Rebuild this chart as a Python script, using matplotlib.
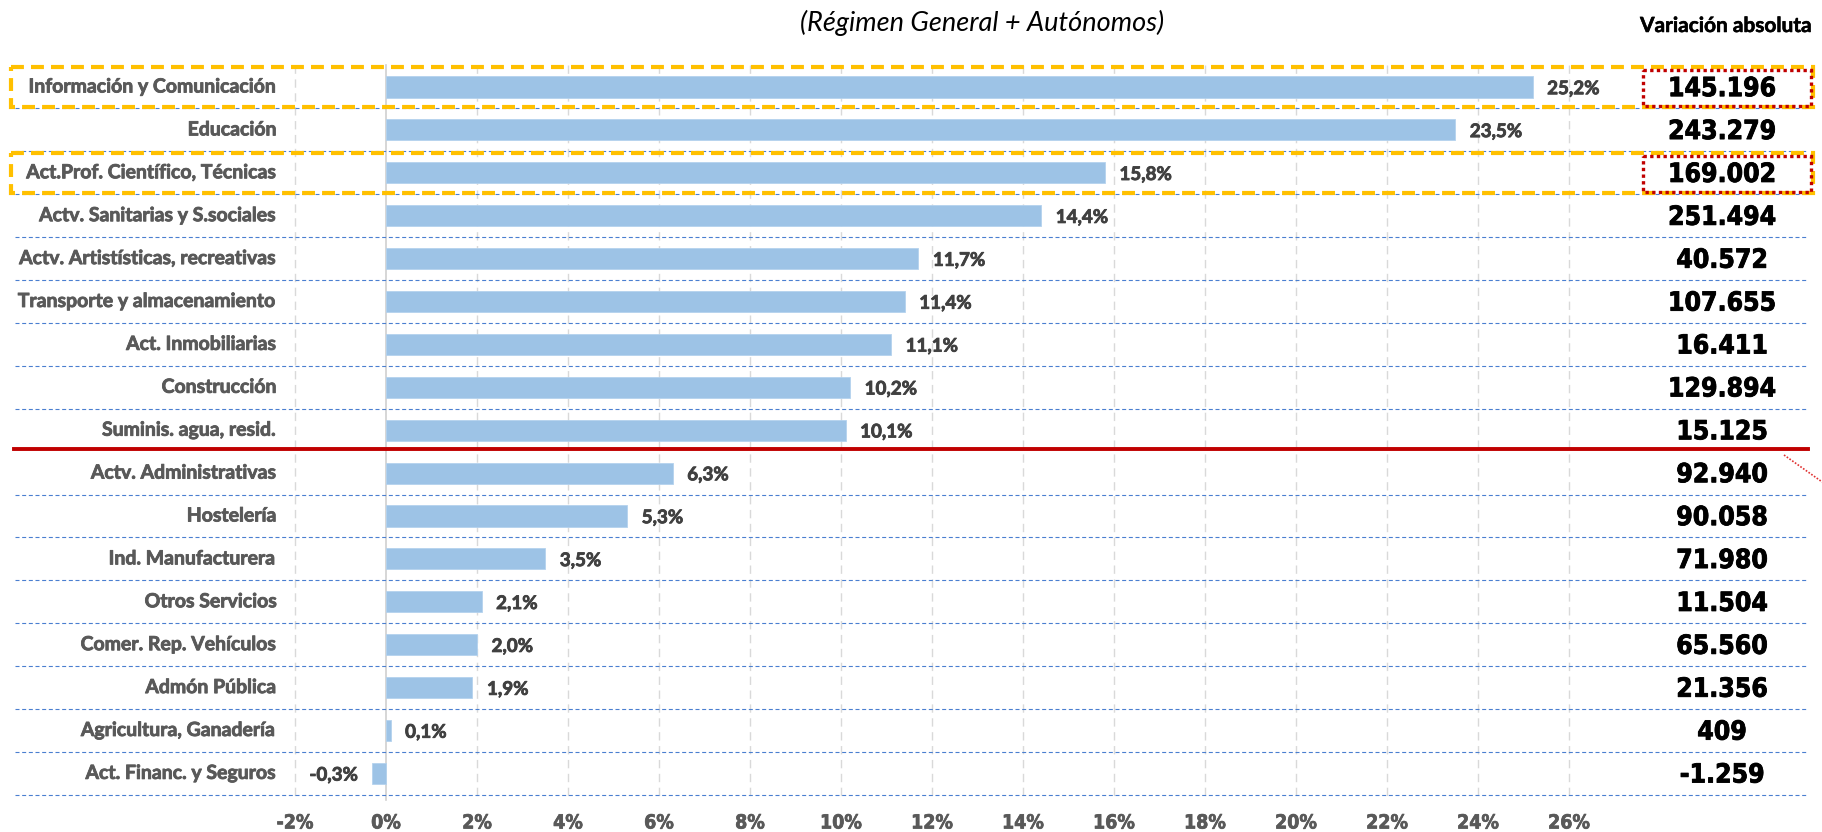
import matplotlib.pyplot as plt
import matplotlib.patheffects as pe
from matplotlib.patches import Rectangle
from matplotlib import font_manager
from matplotlib.font_manager import FontProperties

# Data
sectors = [
    'Información y Comunicación', 'Educación', 'Act.Prof. Científico, Técnicas',
    'Actv. Sanitarias y S.sociales', 'Actv. Artistísticas, recreativas',
    'Transporte y almacenamiento', 'Act. Inmobiliarias', 'Construcción',
    'Suminis. agua, resid.', 'Actv. Administrativas', 'Hostelería',
    'Ind. Manufacturera', 'Otros Servicios', 'Comer. Rep. Vehículos',
    'Admón Pública', 'Agricultura, Ganadería', 'Act. Financ. y Seguros',
]
pct_change = [25.2, 23.5, 15.8, 14.4, 11.7, 11.4, 11.1, 10.2, 10.1,
              6.3, 5.3, 3.5, 2.1, 2.0, 1.9, 0.1, -0.3]
abs_change = ['145.196', '243.279', '169.002', '251.494', '40.572', '107.655',
              '16.411', '129.894', '15.125', '92.940', '90.058', '71.980',
              '11.504', '65.560', '21.356', '409', '-1.259']
xticks = list(range(-2, 27, 2))
highlighted = [0, 2]      # rows boxed in yellow
split_after = 8           # red separator below this row

W, H = 1822, 832
# pixel calibration of the original layout
X0, XU = 386, 45.5        # px of 0 %, px per 1 %
Y0, YU = 87, 42.9         # px of first row centre, px per row


def dx(px):
    return (px - X0) / XU


def dy(py):
    return (py - Y0) / YU


# pick fonts: a family that really has a bold face, and a narrow bold face
fonts = font_manager.fontManager.ttflist
main_family = 'DejaVu Sans'
for fam in ['Lato', 'Open Sans', 'Roboto', 'Noto Sans']:
    if any(f.name == fam and f.weight in (700, 'bold') for f in fonts):
        main_family = fam
        break

narrow_file = None
for key in ['LiberationSansNarrow-Bold.', 'DejaVuSansCondensed-Bold.']:
    for f in fonts:
        if key in f.fname.replace(' ', ''):
            narrow_file = f.fname
            break
    if narrow_file:
        break


def narrow(size):
    if narrow_file:
        return FontProperties(fname=narrow_file, size=size)
    return FontProperties(family=main_family, weight='bold', size=size)


def heavy(color, w=0.6):
    # a thin outline in the text colour to mimic the heavier original glyphs
    return [pe.withStroke(linewidth=w, foreground=color)]


plt.rcParams['font.family'] = [main_family, 'DejaVu Sans']

fig = plt.figure(figsize=(W / 100, H / 100), dpi=100)
ax = fig.add_axes([0, 0, 1, 1])
ax.set_xlim(dx(0), dx(W))
ax.set_ylim(dy(H), dy(0))
ax.axis('off')

n = len(sectors)
rows = list(range(n))

# vertical gridlines
for t in xticks:
    if t == 0:
        ax.plot([0, 0], [dy(65), dy(800)], color='#D0D0D0', lw=1.2, zorder=1)
    else:
        ax.plot([t, t], [dy(65), dy(800)], color='#D9D9D9', lw=1.0,
                linestyle=(0, (6, 4)), zorder=1)
    ax.text(t, dy(823), f'{t}%', ha='center', va='center',
            fontproperties=narrow(14), color='#595959',
            path_effects=heavy('#595959', 0.5))

# horizontal row separators
for i in rows:
    if i == split_after:
        continue
    ax.plot([dx(15), dx(1808)], [i + 0.5, i + 0.5], color='#4A7FD0', lw=0.8,
            linestyle=(0, (3.6, 2.4)), zorder=1)
ax.plot([dx(14), dx(1808)], [dy(449)] * 2, color='#C00000', lw=2.8, zorder=4)
ax.plot([dx(1784), dx(1835)], [dy(455), dy(491)], color='#E03030', lw=1.2,
        linestyle=(0, (1, 1)), zorder=4)

# bars
ax.barh(rows, pct_change, height=0.49, color='#9DC3E6', edgecolor='#B4D2EE',
        linewidth=0.6, zorder=2)

for i, (name, v, a) in enumerate(zip(sectors, pct_change, abs_change)):
    ax.text(dx(277), i, name, ha='right', va='center', fontsize=14,
            fontweight='bold', color='#595959', path_effects=heavy('#595959'))
    lab = f'{v:.1f}%'.replace('.', ',')
    if v >= 0:
        ax.text(v + 0.32, i + 0.04, lab, ha='left', va='center', fontsize=13.5,
                fontweight='bold', color='#404040', path_effects=heavy('#404040'))
    else:
        ax.text(v - 0.32, i + 0.04, lab, ha='right', va='center', fontsize=13.5,
                fontweight='bold', color='#404040', path_effects=heavy('#404040'))
    ax.text(dx(1722), i + 0.05, a, ha='center', va='center',
            fontproperties=narrow(19), color='black',
            path_effects=heavy('black', 0.6))

# highlight boxes
for i in highlighted:
    top = i - 0.5 + 0.04
    ax.add_patch(Rectangle((dx(11), top), dx(1813) - dx(11), 0.93, fill=False,
                           edgecolor='#FFC000', lw=3, linestyle=(0, (3.1, 1.7)),
                           zorder=5))
    ax.add_patch(Rectangle((dx(1643), top + 0.06), dx(1811) - dx(1643), 0.85,
                           fill=False, edgecolor='#C00000', lw=2.4,
                           linestyle=(0, (1, 1)), zorder=6))

# titles
ax.text(dx(982), dy(23), '(Régimen General + Autónomos)', ha='center',
        va='center', fontsize=19.5, style='italic', color='black')
ax.text(dx(1726), dy(26), 'Variación absoluta', ha='center', va='center',
        fontsize=15, fontweight='bold', color='black',
        path_effects=heavy('black', 0.4))

fig.savefig('out.png', dpi=100)
